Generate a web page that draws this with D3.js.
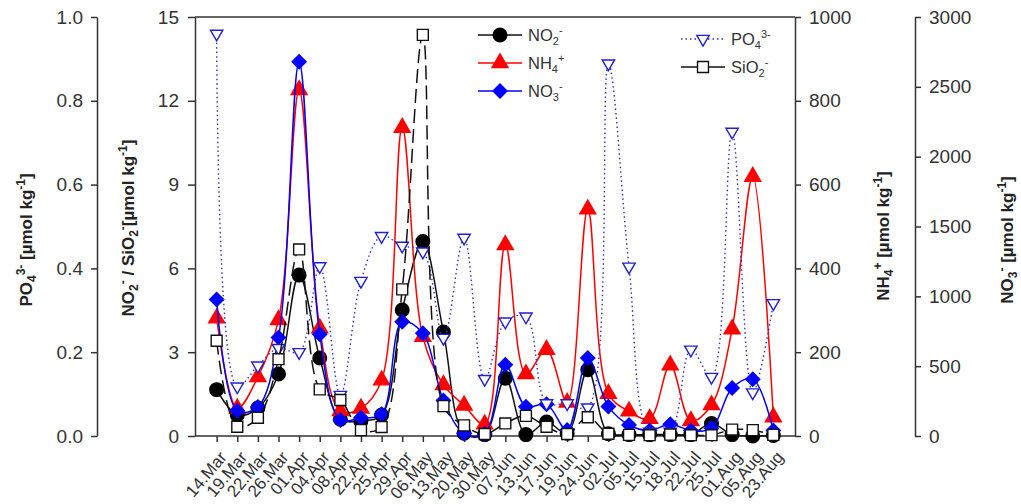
<!DOCTYPE html>
<html><head><meta charset="utf-8">
<script src="https://cdn.jsdelivr.net/npm/d3@7"></script>
<style>
body{margin:0;background:#fff;}
svg text{font-family:Arial,"Liberation Sans",sans-serif;}
</style></head>
<body><svg id="c" width="1021" height="504"></svg>
<script>
const dates = ["14.Mar","19.Mar","22.Mar","26.Mar","01.Apr","04.Apr","08.Apr","22.Apr","25.Apr","29.Apr","06.May","13.May","20.May","30.May","07.Jun","13.Jun","17.Jun","19.Jun","24.Jun","02.Jul","05.Jul","15.Jul","18.Jul","22.Jul","25.Jul","01.Aug","05.Aug","23.Aug"];
const no2  = [1.66,0.75,1.0,2.22,5.76,2.79,0.6,0.55,0.75,4.51,6.96,3.72,0.1,0.05,2.07,0.05,0.5,0.1,2.37,0.08,0.05,0.05,0.05,0.05,0.45,0.05,0.0,0.02];
const nh4  = [281,66,141,277,826,257,60,66,133,736,237,122,73,28,456,148,206,80,541,101,59,41,169,36,74,255,619,45];
const no3  = [978,180,208,706,2680,728,115,130,156,818,735,255,19,15,510,210,228,43,558,212,79,40,84,40,55,343,407,40];
const po4  = [0.96,0.118,0.168,0.21,0.20,0.405,0.098,0.37,0.477,0.454,0.44,0.234,0.473,0.136,0.273,0.285,0.078,0.078,0.068,0.889,0.404,0.01,0.01,0.206,0.141,0.726,0.104,0.317];
const sio2 = [3.41,0.33,0.65,2.75,6.68,1.67,1.29,0.21,0.32,5.25,14.36,1.07,0.38,0.07,0.45,0.72,0.33,0.07,0.67,0.08,0.04,0.03,0.05,0.03,0.03,0.23,0.21,0.04];
const ticksPO4 = [0,0.2,0.4,0.6,0.8,1.0];
const ticksNO2 = [0,3,6,9,12,15];
const ticksNH4 = [0,200,400,600,800,1000];
const ticksNO3 = [0,500,1000,1500,2000,2500,3000];

const svg = d3.select("#c");
const L=195,R=795,T=17,B=436;
const x = d3.scalePoint().domain(dates).range([L,R]).padding(1.05);
const yP = d3.scaleLinear().domain([0,1]).range([B,T]);
const yL = d3.scaleLinear().domain([0,15]).range([B,T]);
const yN = d3.scaleLinear().domain([0,1000]).range([B,T]);
const y3 = d3.scaleLinear().domain([0,3000]).range([B,T]);
const axCol="#333", txtCol="#333";

function styleAxis(g,fs){
  g.selectAll("path,line").attr("stroke",axCol).attr("stroke-width",1.5);
  g.selectAll("text").attr("font-size",fs).attr("fill",txtCol);
}
svg.append("line").attr("x1",L).attr("x2",R).attr("y1",T).attr("y2",T).attr("stroke",axCol).attr("stroke-width",1.5);

svg.append("g").attr("transform",`translate(97,0)`).call(d3.axisLeft(yP).tickValues(ticksPO4).tickFormat(d3.format(".1f")).tickSize(6).tickPadding(8).tickSizeOuter(0)).call(g=>styleAxis(g,19));
svg.append("g").attr("transform",`translate(${L},0)`).call(d3.axisLeft(yL).tickValues(ticksNO2).tickFormat(d3.format("d")).tickSize(7).tickPadding(9).tickSizeOuter(0)).call(g=>styleAxis(g,19));
svg.append("g").attr("transform",`translate(${R},0)`).call(d3.axisRight(yN).tickValues(ticksNH4).tickFormat(d3.format("d")).tickSize(6).tickPadding(8).tickSizeOuter(0)).call(g=>styleAxis(g,19));
svg.append("g").attr("transform",`translate(915,0)`).call(d3.axisRight(y3).tickValues(ticksNO3).tickFormat(d3.format("d")).tickSize(6).tickPadding(8).tickSizeOuter(0)).call(g=>styleAxis(g,19));
const xg = svg.append("g").attr("transform",`translate(0,${B})`).call(d3.axisBottom(x).tickSize(6).tickSizeOuter(0));
styleAxis(xg,17);
xg.selectAll("text").attr("text-anchor","end").attr("dy","0.35em").attr("transform","translate(-1,12) rotate(-50)");
xg.select(".domain").attr("d",`M${L},0H${R}`);

function title(xp,yp,parts){
  const t = svg.append("text").attr("transform",`translate(${xp},${yp}) rotate(-90)`).attr("text-anchor","middle")
    .attr("font-size",17).attr("font-weight","bold").attr("fill","#222");
  parts.forEach(p=>{
    const s=t.append("tspan").text(p[0]);
    if(p[1]==="sub") s.attr("font-size",12).attr("baseline-shift","-4");
    if(p[1]==="sup") s.attr("font-size",12).attr("baseline-shift","7");
  });
}
title(32,240,[["PO"],["4","sub"],["3-","sup"],[" [µmol kg"],["-1","sup"],["]"]]);
title(134,228,[["NO"],["2","sub"],["-","sup"],[" / SiO"],["2","sub"],["-","sup"],["[µmol kg"],["-1","sup"],["]"]]);
title(889,236,[["NH"],["4","sub"],["+","sup"],[" [µmol kg"],["-1","sup"],["]"]]);
title(1013,240,[["NO"],["3","sub"],["-","sup"],[" [µmol kg"],["-1","sup"],["]"]]);

const curve = d3.curveCatmullRom.alpha(0.5);
function line(data,y,color,dash,w){
  svg.append("path").datum(data).attr("fill","none").attr("stroke",color).attr("stroke-width",w||1.5)
   .attr("stroke-dasharray",dash||null)
   .attr("d",d3.line().x((d,i)=>x(dates[i])).y(d=>y(d)).curve(curve));
}
const sym = {
  circle:d3.symbol().type(d3.symbolCircle).size(145),
  tri:d3.symbol().type(d3.symbolTriangle).size(110),
  diamond:d3.symbol().type(d3.symbolDiamond2).size(125),
  square:d3.symbol().type(d3.symbolSquare).size(120),
  tridown:d3.symbol().type(d3.symbolTriangle2).size(110)
};
function marks(data,y,s,fill,stroke,rot){
  svg.append("g").selectAll("path").data(data).join("path")
   .attr("transform",(d,i)=>`translate(${x(dates[i])},${y(d)})${rot?" rotate(180)":""}`)
   .attr("d",sym[s]).attr("fill",fill).attr("stroke",stroke).attr("stroke-width",1.4);
}
line(no2,yL,"#111"); marks(no2,yL,"circle","#000","#000");
line(nh4,yN,"#ff0000"); marks(nh4,yN,"tri","#ff0000","#ff0000");
line(no3,y3,"#0000ff"); marks(no3,y3,"diamond","#0000ff","#0000ff");
line(po4,yP,"#3030d0","1.5,3",1.4); marks(po4,yP,"tridown","#fff","#2020d0",true);
line(sio2,yL,"#111","14,6",1.5); marks(sio2,yL,"square","#fff","#111");

function legItem(lx,ly,color,dash,s,fill,stroke,rot,parts){
  svg.append("line").attr("x1",lx-22).attr("x2",lx+22).attr("y1",ly).attr("y2",ly).attr("stroke",color).attr("stroke-width",1.5).attr("stroke-dasharray",dash||null);
  svg.append("path").attr("transform",`translate(${lx},${ly})${rot?" rotate(180)":""}`).attr("d",sym[s]).attr("fill",fill).attr("stroke",stroke).attr("stroke-width",1.4);
  const t=svg.append("text").attr("x",lx+28).attr("y",ly+6).attr("font-size",16.5).attr("fill","#333");
  parts.forEach(p=>{const sp=t.append("tspan").text(p[0]);
    if(p[1]==="sub") sp.attr("font-size",11).attr("baseline-shift","-4");
    if(p[1]==="sup") sp.attr("font-size",11).attr("baseline-shift","7");});
}
legItem(500,35,"#111",null,"circle","#000","#000",false,[["NO"],["2","sub"],["-","sup"]]);
legItem(500,63,"#ff0000",null,"tri","#ff0000","#ff0000",false,[["NH"],["4","sub"],["+","sup"]]);
legItem(500,91,"#0000ff",null,"diamond","#0000ff","#0000ff",false,[["NO"],["3","sub"],["-","sup"]]);
legItem(703,39,"#3030d0","1.5,3","tridown","#fff","#2020d0",true,[["PO"],["4","sub"],["3-","sup"]]);
legItem(703,67,"#111",null,"square","#fff","#111",false,[["SiO"],["2","sub"],["-","sup"]]);
</script></body></html>
